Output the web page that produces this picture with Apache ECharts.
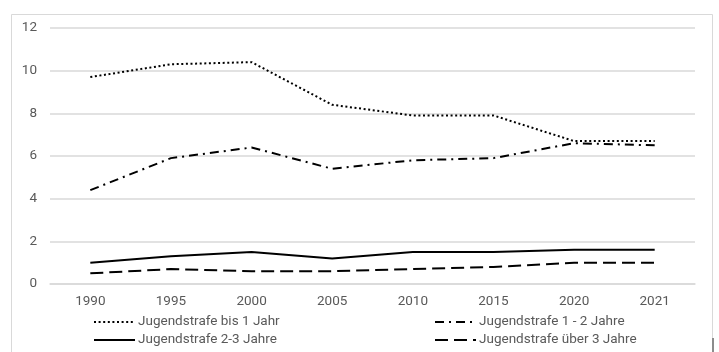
<!DOCTYPE html>
<html>
<head>
<meta charset="utf-8">
<script src="https://cdn.jsdelivr.net/npm/echarts@6/dist/echarts.min.js"></script>
<style>
  html, body { margin: 0; padding: 0; background: #fff; }
  #chart { width: 719px; height: 352px; }
</style>
</head>
<body>
<div id="chart"></div>
<script>
// Jahre der Erhebung
const years = ['1990', '1995', '2000', '2005', '2010', '2015', '2020', '2021'];

// Anteile je Strafdauer
const bis1Jahr   = [9.7, 10.3, 10.4, 8.4, 7.9, 7.9, 6.7, 6.7];
const ein2Jahre  = [4.4, 5.9, 6.4, 5.4, 5.8, 5.9, 6.6, 6.5];
const zwei3Jahre = [1.0, 1.3, 1.5, 1.2, 1.5, 1.5, 1.6, 1.6];
const ueber3     = [0.5, 0.7, 0.6, 0.6, 0.7, 0.8, 1.0, 1.0];

const names = [
  'Jugendstrafe bis 1 Jahr',
  'Jugendstrafe 1 - 2 Jahre',
  'Jugendstrafe 2-3 Jahre',
  'Jugendstrafe über 3 Jahre'
];

const font = 'Roboto, "Liberation Sans", sans-serif';
const textColor = '#595959';

function lineSeries(name, data, type) {
  return {
    name: name,
    type: 'line',
    data: data,
    symbol: 'none',
    smooth: false,
    lineStyle: { color: '#000', width: 2, type: type, cap: 'butt' },
    itemStyle: { color: '#000' },
    emphasis: { disabled: true }
  };
}

// Legende: nur die Linie, ohne Punktsymbol
const legendBase = {
  orient: 'vertical',
  itemWidth: 41,
  itemHeight: 14,
  itemGap: 2,
  itemStyle: { opacity: 0 },
  textStyle: { color: textColor, fontSize: 13.5, fontFamily: font, padding: [0, 0, 0, -2], lineHeight: 16 },
  padding: 0
};

const chart = echarts.init(document.getElementById('chart'), null, { renderer: 'canvas' });
chart.setOption({
  animation: false,
  backgroundColor: '#fff',
  grid: { left: 50, right: 24, top: 28, bottom: 68, containLabel: false },
  xAxis: {
    type: 'category',
    data: years,
    boundaryGap: true,
    axisLine: { show: true, lineStyle: { color: '#d9d9d9', width: 1.5 } },
    axisTick: { show: false },
    axisLabel: { color: textColor, fontSize: 13.5, fontFamily: font, margin: 11 }
  },
  yAxis: {
    type: 'value',
    min: 0,
    max: 12,
    interval: 2,
    axisLine: { show: false },
    axisTick: { show: false },
    axisLabel: { color: textColor, fontSize: 13.5, fontFamily: font, margin: 13 },
    splitLine: { lineStyle: { color: '#d9d9d9', width: 1.5 } }
  },
  legend: [
    Object.assign({}, legendBase, { left: 93, top: 314, data: [names[0], names[2]] }),
    Object.assign({}, legendBase, { left: 434, top: 314, data: [names[1], names[3]] })
  ],
  series: [
    lineSeries(names[0], bis1Jahr, [2, 2.6]),
    lineSeries(names[1], ein2Jahre, [9, 5, 2, 5]),
    lineSeries(names[2], zwei3Jahre, 'solid'),
    lineSeries(names[3], ueber3, [13, 6])
  ],
  graphic: [
    {
      type: 'rect',
      silent: true,
      shape: { x: 11.5, y: 14.5, width: 701, height: 360 },
      style: { fill: 'none', stroke: '#d9d9d9', lineWidth: 1 }
    },
    {
      type: 'rect',
      silent: true,
      shape: { x: 712, y: 338, width: 2, height: 14 },
      style: { fill: '#8c8c8c' }
    }
  ]
});
</script>
</body>
</html>
